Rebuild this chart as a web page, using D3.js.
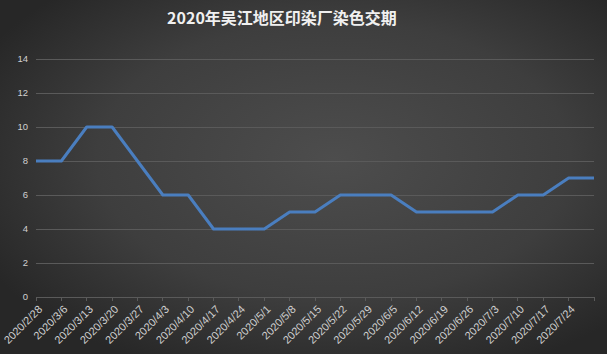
<!DOCTYPE html>
<html>
<head>
<meta charset="utf-8">
<script src="https://cdn.jsdelivr.net/npm/d3@7"></script>
<style>
  html, body { margin: 0; padding: 0; background: #2b2b2b; }
  svg { display: block; }
</style>
</head>
<body>
<div id="chart"></div>
<script>
var title = '2020年吴江地区印染厂染色交期';
var dates = [
  '2020/2/28', '2020/3/6', '2020/3/13', '2020/3/20', '2020/3/27',
  '2020/4/3', '2020/4/10', '2020/4/17', '2020/4/24', '2020/5/1',
  '2020/5/8', '2020/5/15', '2020/5/22', '2020/5/29', '2020/6/5',
  '2020/6/12', '2020/6/19', '2020/6/26', '2020/7/3', '2020/7/10',
  '2020/7/17', '2020/7/24', ''
];
var days = [8, 8, 10, 10, 8, 6, 6, 4, 4, 4, 5, 5, 6, 6, 6, 5, 5, 5, 5, 6, 6, 7, 7];
var yTicks = [0, 2, 4, 6, 8, 10, 12, 14];

var width = 607, height = 354;
var margin = { top: 59, left: 36, right: 13, bottom: 57 };

var svg = d3.select('#chart').append('svg')
  .attr('width', width)
  .attr('height', height);

// background
var defs = svg.append('defs');
var grad = defs.append('radialGradient')
  .attr('id', 'bg')
  .attr('cx', '55%').attr('cy', '45%').attr('r', '65%');
grad.append('stop').attr('offset', '0%').attr('stop-color', '#4d4d4d');
grad.append('stop').attr('offset', '60%').attr('stop-color', '#3e3e3e');
grad.append('stop').attr('offset', '100%').attr('stop-color', '#272727');
svg.append('rect')
  .attr('width', width).attr('height', height)
  .attr('fill', 'url(#bg)');

var innerW = width - margin.left - margin.right;
var innerH = height - margin.top - margin.bottom;

var x = d3.scalePoint().domain(d3.range(dates.length)).range([0, innerW]);
var y = d3.scaleLinear().domain([0, 14]).range([innerH, 0]);

var g = svg.append('g')
  .attr('transform', 'translate(' + margin.left + ',' + margin.top + ')');

// grid lines
g.selectAll('.grid')
  .data(yTicks)
.enter()
  .append('line')
  .attr('class', 'grid')
  .attr('x1', 0).attr('x2', innerW)
  .attr('y1', function (d) { return y(d); })
  .attr('y2', function (d) { return y(d); })
  .attr('stroke', '#5a5a5a')
  .attr('stroke-width', 1)
  .attr('shape-rendering', 'crispEdges');

// y labels
g.selectAll('.ylab')
  .data(yTicks)
.enter()
  .append('text')
  .attr('class', 'ylab')
  .attr('x', -8)
  .attr('y', function (d) { return y(d); })
  .attr('dy', '0.35em')
  .attr('text-anchor', 'end')
  .attr('fill', '#d0d0d0')
  .style('font', '9.5px "Liberation Sans", Arial, sans-serif')
  .text(function (d) { return d; });

// x axis ticks
var xAxis = g.append('g')
  .attr('transform', 'translate(0,' + innerH + ')');
xAxis.selectAll('line')
  .data(d3.range(dates.length))
.enter()
  .append('line')
  .attr('x1', function (d) { return x(d); })
  .attr('x2', function (d) { return x(d); })
  .attr('y1', 0).attr('y2', 4)
  .attr('stroke', '#5a5a5a')
  .attr('shape-rendering', 'crispEdges');

xAxis.selectAll('text')
  .data(dates)
.enter()
  .append('text')
  .attr('text-anchor', 'end')
  .attr('fill', '#d0d0d0')
  .style('font', '11px "Liberation Sans", Arial, sans-serif')
  .attr('transform', function (d, i) {
    return 'translate(' + (x(i) + 7) + ',' + 13 + ') rotate(-45)';
  })
  .text(function (d) { return d; });

// line
var line = d3.line()
  .x(function (d, i) { return x(i); })
  .y(function (d) { return y(d); });

g.append('path')
  .datum(days)
  .attr('d', line)
  .attr('fill', 'none')
  .attr('stroke', '#4a7ebf')
  .attr('stroke-width', 3)
  .attr('stroke-linejoin', 'round');

// title
svg.append('text')
  .attr('x', 282)
  .attr('y', 24)
  .attr('text-anchor', 'middle')
  .attr('fill', '#f0f0f0')
  .style('font', 'bold 16px "Noto Sans CJK SC", sans-serif')
  .text(title);
</script>
</body>
</html>
